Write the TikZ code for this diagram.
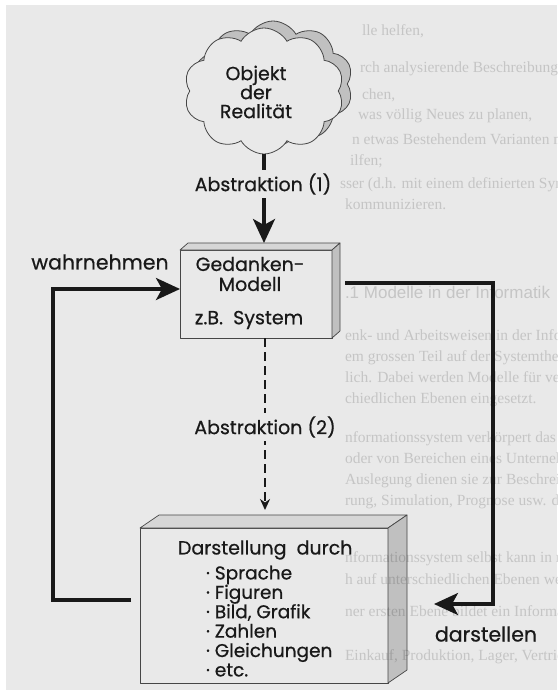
\documentclass[tikz,border=0pt]{standalone}
\usepackage{fontspec}
\setmainfont{Poppins}[FakeBold=0.6]
\newfontfamily\ghostfont{Liberation Serif}
\newfontfamily\ghostsans{Liberation Sans}
\usetikzlibrary{arrows.meta,shapes.symbols,calc}
\definecolor{paper}{RGB}{233,233,233}
\definecolor{ink}{RGB}{25,25,25}
\definecolor{edge}{RGB}{70,70,70}
\definecolor{topface}{RGB}{214,214,214}
\definecolor{sideface}{RGB}{192,192,192}
\definecolor{ghost}{RGB}{216,216,216}
\begin{document}
\begin{tikzpicture}[x=1pt,y=-1pt,
  every node/.style={inner sep=0pt, outer sep=0pt, text=ink},
  lbl/.style={font=\fontsize{19}{19}\selectfont},
  itemlbl/.style={font=\fontsize{18.5}{18.5}\selectfont},
  biglbl/.style={font=\fontsize{20.5}{20.5}\selectfont},
  conn/.style={draw=ink, line width=3.3pt},
  head/.style={-{Stealth[length=24pt,width=22pt,inset=6pt]}},
  ghostline/.style={anchor=base west, text=ghost, font=\ghostfont\fontsize{15.5}{15.5}\selectfont},
  face/.style={draw=edge, line width=0.7pt, line join=round},
  cloudpart/.style={cloud, cloud puffs=10, cloud puff arc=120, cloud ignores aspect,
    minimum width=160pt, minimum height=126pt, draw=edge, line width=0.8pt},
]
\useasboundingbox (0,0) rectangle (557,695);
\fill[white] (0,0) rectangle (557,695);
\fill[paper] (6,5) rectangle (557,690);

% cloud with its raised rim
\node[cloudpart, fill=sideface] (cloudback) at (273,84) {};
\node[cloudpart, fill=paper] (cloud) at (264,91) {};
\node[lbl, align=center, font=\fontsize{19}{19}\selectfont] (obj) at (256,92) {Objekt\\der\\Realität};

% upper box: Gedanken-Modell
\node[face, fill=paper, minimum width=152pt, minimum height=88pt] (box1) at (256,294) {};
\filldraw[face, fill=topface] (box1.north west) -- ++(8,-7) -- ++(152,0) -- (box1.north east) -- cycle;
\filldraw[face, fill=sideface] (box1.north east) -- ++(8,-7) -- ++(0,88) -- (box1.south east) -- cycle;
\node[lbl] (gm1) at (250,264) {Gedanken-};
\node[lbl] (gm2) at (250,284) {Modell};
\node[lbl] (gm3) at (249,320) {z.B.\ \ System};

% lower box: Darstellung
\node[face, fill=paper, minimum width=248pt, minimum height=155pt] (box2) at (264,605.5) {};
\filldraw[face, fill=topface] (box2.north west) -- ++(19,-13) -- ++(248,0) -- (box2.north east) -- cycle;
\filldraw[face, fill=sideface] (box2.north east) -- ++(19,-13) -- ++(0,155) -- (box2.south east) -- cycle;
\node[lbl, anchor=west] (dd) at (178,550) {Darstellung\ \ durch};
\foreach \t [count=\i] in {Sprache, Figuren, {Bild, Grafik}, Zahlen, Gleichungen, etc.}
  \node[itemlbl, anchor=base west] (item\i) at (206,560+19.4*\i) {·\ \t};

% Abstraktion (1)
\coordinate (a1end) at ($(box1.north)+(8,-7)$);
\draw[conn, head] (cloud.south) -- (a1end);
\node[lbl, fill=paper, inner sep=3pt] (abs1) at (263,184) {Abstraktion (1)};

% Abstraktion (2)
\coordinate (a2end) at (265,510);
\draw[draw=ink, line width=2pt, dash pattern=on 9pt off 5pt,
  -{Stealth[length=11pt,width=10pt]}] ([xshift=9pt]box1.south) -- (a2end);
\node[lbl, fill=paper, inner sep=3pt] (abs2) at (265,427) {Abstraktion (2)};

% wahrnehmen loop
\coordinate (lfree) at (131,600);
\coordinate (lbot) at (53,600);
\coordinate (ltop) at (53,289);
\draw[conn, head, line join=miter] (lfree) -- (lbot) -- (ltop) -- ([yshift=5pt]box1.west);
\node[biglbl] (wahr) at (100,262) {wahrnehmen};

% darstellen loop
\coordinate (rtop) at (493,283);
\coordinate (rbot) at (493,604);
\coordinate (rtip) at (434,604);
\draw[conn, head, line join=miter] ([xshift=13pt,yshift=11pt]box1.east) -- (rtop) -- (rbot) -- (rtip);
\node[biglbl] (dar) at (486,634) {darstellen};

% faint print showing through from the other side of the sheet
\begin{scope}[blend mode=multiply]
\clip (6,5) rectangle (557,690);
\node[ghostline] (g1) at (362,36) {lle helfen,};
\node[ghostline] (g2) at (360,73) {rch analysierende Beschreibung etwas Bestehendes zu};
\node[ghostline] (g3) at (362,100) {chen,};
\node[ghostline] (g4) at (358,120) {was völlig Neues zu planen,};
\node[ghostline] (g5) at (352,145) {n etwas Bestehendem Varianten möglicher Veränderungen};
\node[ghostline] (g6) at (350,165) {ilfen;};
\node[ghostline] (g7) at (340,188) {sser (d.h. mit einem definierten Symbolvorrat) über das S};
\node[ghostline] (g8) at (345,209) {kommunizieren.};
\node[ghostline, font=\ghostsans\fontsize{17}{17}\selectfont] (g9) at (345,298) {.1 Modelle in der Informatik};
\node[ghostline] (g10) at (345,340) {enk- und Arbeitsweisen in der Informatik [Kob 1995] S};
\node[ghostline] (g11) at (345,361) {em grossen Teil auf der Systemtheorie und der Anwendu};
\node[ghostline] (g12) at (345,382) {lich. Dabei werden Modelle für verschiedene Zweck};
\node[ghostline] (g13) at (345,403) {chiedlichen Ebenen eingesetzt.};
\node[ghostline] (g14) at (345,442) {nformationssystem verkörpert das reale Modell eines Un};
\node[ghostline] (g15) at (345,463) {oder von Bereichen eines Unternehmens. Je nach Anforde};
\node[ghostline] (g16) at (345,484) {Auslegung dienen sie zur Beschreibung, Gestaltung, Überpr};
\node[ghostline] (g17) at (345,505) {rung, Simulation, Prognose usw. der Geschäftsvorfälle.};
\node[ghostline] (g18) at (345,562) {nformationssystem selbst kann in mehreren Modellen bes};
\node[ghostline] (g19) at (345,584) {h auf unterschiedlichen Ebenen werden (vgl. Abb. 1.17).};
\node[ghostline] (g20) at (345,616) {ner ersten Ebene bildet ein Informationssystem};
\node[ghostline] (g21) at (345,660) {Einkauf, Produktion, Lager, Vertrieb usw. den Warenfluss};
\end{scope}
\end{tikzpicture}
\end{document}
